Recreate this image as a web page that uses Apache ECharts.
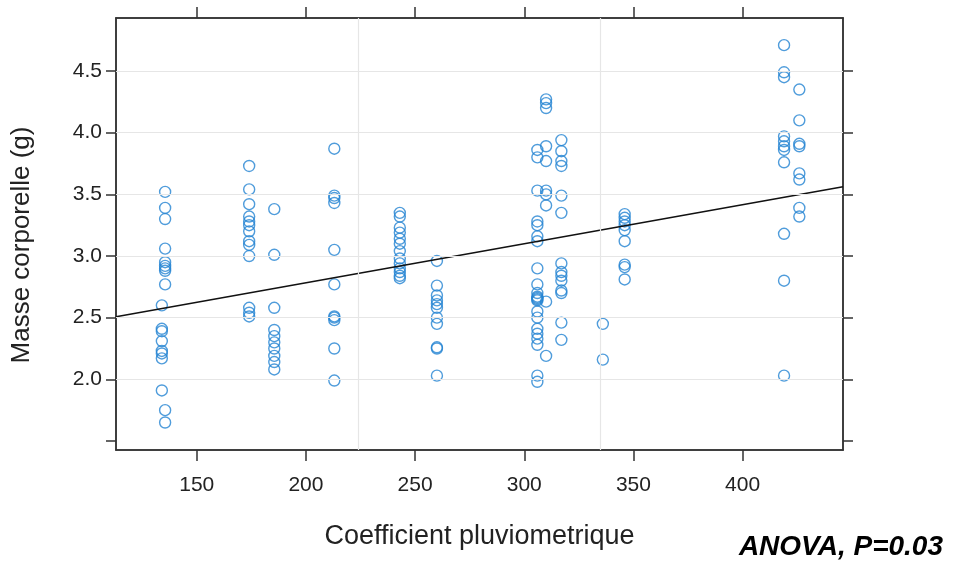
<!DOCTYPE html>
<html>
<head>
<meta charset="utf-8">
<script src="https://cdn.jsdelivr.net/npm/echarts@6/dist/echarts.min.js"></script>
<style>
html,body{margin:0;padding:0;background:#fff;}
#chart{width:955px;height:566px;}
</style>
</head>
<body>
<div id="chart"></div>
<script>
// ---- data ----
const xTicks = [150, 200, 250, 300, 350, 400];
const yTicks = [1.5, 2.0, 2.5, 3.0, 3.5, 4.0, 4.5];
const yLabels = [2.0, 2.5, 3.0, 3.5, 4.0, 4.5];
const xRange = [113, 446];
const yRange = [1.427, 4.93];
const refX = [224, 335];

// rainfall coefficient of each group of birds
const groupRain = [135.5, 134, 174, 185.5, 213, 243, 260, 306, 310, 317, 336, 346, 419, 426];
// body masses (g) per group, same order as groupRain
const massA1 = [3.52, 3.39, 3.30, 3.06, 2.95, 2.92, 2.90, 2.88, 2.77, 1.75, 1.65];
const massA2 = [2.60, 2.41, 2.39, 2.31, 2.23, 2.21, 2.17, 1.91];
const massB = [3.73, 3.54, 3.42, 3.32, 3.28, 3.25, 3.20, 3.12, 3.09, 3.00, 2.58, 2.54, 2.51];
const massC = [3.38, 3.01, 2.58, 2.40, 2.35, 2.30, 2.25, 2.19, 2.14, 2.08];
const massD = [3.87, 3.49, 3.47, 3.43, 3.05, 2.77, 2.51, 2.50, 2.48, 2.25, 1.99];
const massE = [3.35, 3.32, 3.23, 3.19, 3.14, 3.10, 3.04, 2.98, 2.94, 2.90, 2.87, 2.84, 2.82];
const massF = [2.96, 2.76, 2.68, 2.64, 2.61, 2.58, 2.50, 2.45, 2.26, 2.25, 2.03];
const massG1 = [3.86, 3.80, 3.53, 3.28, 3.25, 3.16, 3.12, 2.90, 2.77, 2.70, 2.67, 2.66, 2.65, 2.64, 2.55, 2.50, 2.41, 2.37, 2.33, 2.28, 2.03, 1.98];
const massG2 = [4.27, 4.24, 4.20, 3.89, 3.77, 3.53, 3.50, 3.41, 2.63, 2.19];
const massH = [3.94, 3.85, 3.77, 3.73, 3.49, 3.35, 2.94, 2.87, 2.84, 2.80, 2.72, 2.70, 2.46, 2.32];
const massI = [2.45, 2.16];
const massJ = [3.34, 3.31, 3.28, 3.25, 3.21, 3.12, 2.93, 2.91, 2.81];
const massK = [4.71, 4.49, 4.45, 3.97, 3.93, 3.89, 3.86, 3.76, 3.18, 2.80, 2.03];
const massL = [4.35, 4.10, 3.91, 3.89, 3.67, 3.62, 3.39, 3.32];
const groupMass = [massA1, massA2, massB, massC, massD, massE, massF, massG1, massG2, massH, massI, massJ, massK, massL];

// linear fit
const fitIntercept = 2.149;
const fitSlope = 0.003166;

// ---- build ----
const points = [];
groupRain.forEach((x, i) => groupMass[i].forEach(m => points.push([x, m])));
const fitLine = xRange.map(x => [x, fitIntercept + fitSlope * x]);

const FONT = 'Liberation Sans, Arial, sans-serif';
const AX = '#333';

function xAx(pos, labels) {
  return {
    type: 'value', position: pos, min: xRange[0], max: xRange[1],
    axisLine: {show: true, onZero: false, lineStyle: {color: AX, width: 1.5}},
    axisTick: {show: true, length: 11, customValues: xTicks, lineStyle: {color: AX, width: 1.5}},
    axisLabel: labels ? {show: true, customValues: xTicks, margin: 25, fontSize: 21, color: '#222', fontFamily: FONT} : {show: false},
    splitLine: {show: false},
    name: labels ? 'Coefficient pluviometrique' : '',
    nameLocation: 'middle', nameGap: 73,
    nameTextStyle: {fontSize: 27, color: '#222', fontFamily: FONT}
  };
}
function yAx(pos, labels) {
  return {
    type: 'value', position: pos, min: yRange[0], max: yRange[1],
    axisLine: {show: true, onZero: false, lineStyle: {color: AX, width: 1.5}},
    axisTick: {show: true, length: 10, customValues: yTicks, lineStyle: {color: AX, width: 1.5}},
    axisLabel: labels ? {show: true, customValues: yLabels, margin: 14, fontSize: 21, color: '#222', fontFamily: FONT,
      formatter: v => Number(v).toFixed(1)} : {show: false},
    splitLine: {show: false}
  };
}

const chart = echarts.init(document.getElementById('chart'), null, {renderer: 'canvas'});
chart.setOption({
  animation: false,
  backgroundColor: '#fff',
  grid: {left: 116, right: 112, top: 18, bottom: 116, show: true, borderColor: AX, borderWidth: 1.5, backgroundColor: 'transparent'},
  xAxis: [xAx('bottom', true), xAx('top', false)],
  yAxis: [yAx('left', true), yAx('right', false)],
  graphic: [
    {
      type: 'text', x: 22, y: 245, rotation: Math.PI / 2,
      style: {text: 'Masse corporelle (g)', font: '26px Liberation Sans, Arial, sans-serif', fill: '#222',
        textAlign: 'center', textVerticalAlign: 'middle'}
    },
    {
      type: 'text', right: 12, top: 533,
      style: {text: 'ANOVA, P=0.03', font: 'italic bold 28px Liberation Sans, Arial, sans-serif', fill: '#000'}
    }
  ],
  series: [
    {
      type: 'line', data: [], silent: true, z: 1,
      markLine: {
        silent: true, symbol: 'none', animation: false,
        label: {show: false},
        lineStyle: {color: '#e6e6e6', width: 1.2, type: 'solid'},
        data: yLabels.map(v => ({yAxis: v})).concat(refX.map(v => ({xAxis: v})))
      }
    },
    {
      type: 'scatter', data: points, z: 3,
      symbol: 'circle', symbolSize: 11,
      itemStyle: {color: 'rgba(0,0,0,0)', borderColor: '#2383d2', borderWidth: 1.4}
    },
    {
      type: 'line', data: fitLine, z: 4, symbol: 'none',
      lineStyle: {color: '#111', width: 1.5}
    }
  ]
});
</script>
</body>
</html>
